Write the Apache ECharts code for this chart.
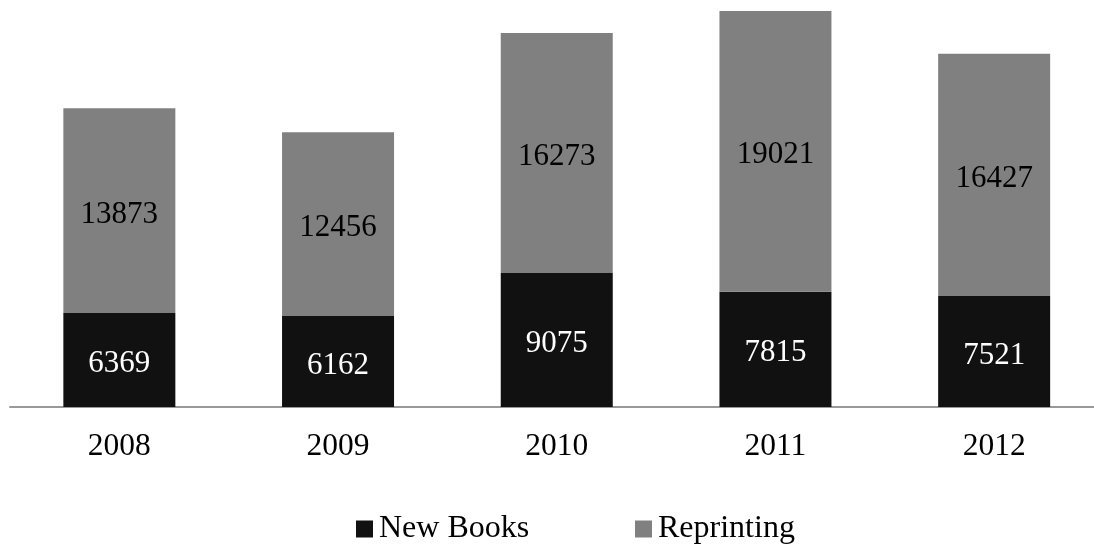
<!DOCTYPE html>
<html><head><meta charset="utf-8">
<script src="https://cdn.jsdelivr.net/npm/echarts@6/dist/echarts.min.js"></script>
<style>html,body{margin:0;padding:0;background:#fff;overflow:hidden;width:1094px;height:546px}#c{width:1104px;height:546px}</style>
</head><body><div id="c"></div>
<script>
const years = ['2008','2009','2010','2011','2012'];
const newBooks = [6369, 6162, 9075, 7815, 7521];
const reprinting = [13873, 12456, 16273, 19021, 16427];
const seriesNames = ['New Books', 'Reprinting'];

const font = '"Liberation Serif", "Times New Roman", serif';
const legendBase = {
  top: 513, padding: 0, itemWidth: 17, itemHeight: 17, icon: 'rect',
  textStyle: { fontFamily: font, fontSize: 32, color: '#000', padding: [0,0,0,1] }
};
const chart = echarts.init(document.getElementById('c'));
chart.setOption({
  animation: false,
  textStyle: { fontFamily: font },
  grid: { left: 10, top: 8.6, width: 1093.5, height: 398.4, containLabel: false },
  legend: [
    Object.assign({ data: [seriesNames[0]], left: 356 }, legendBase),
    Object.assign({ data: [seriesNames[1]], left: 635 }, legendBase)
  ],
  xAxis: {
    type: 'category', data: years,
    axisLine: { show: true, lineStyle: { color: '#999', width: 2 } },
    axisTick: { show: false },
    axisLabel: { fontFamily: font, fontSize: 31.5, color: '#000', margin: 24 }
  },
  yAxis: { type: 'value', min: 0, max: 27000, show: false, splitLine: { show: false } },
  series: [
    { name: seriesNames[0], type: 'bar', stack: 'a', data: newBooks, barWidth: 112,
      itemStyle: { color: '#111111' },
      label: { show: true, position: 'inside', offset: [0, 4], color: '#fff', fontFamily: font, fontSize: 31 } },
    { name: seriesNames[1], type: 'bar', stack: 'a', data: reprinting, barWidth: 112,
      itemStyle: { color: '#808080' },
      label: { show: true, position: 'inside', offset: [0, 4], color: '#000', fontFamily: font, fontSize: 31 } }
  ]
});
</script></body></html>
